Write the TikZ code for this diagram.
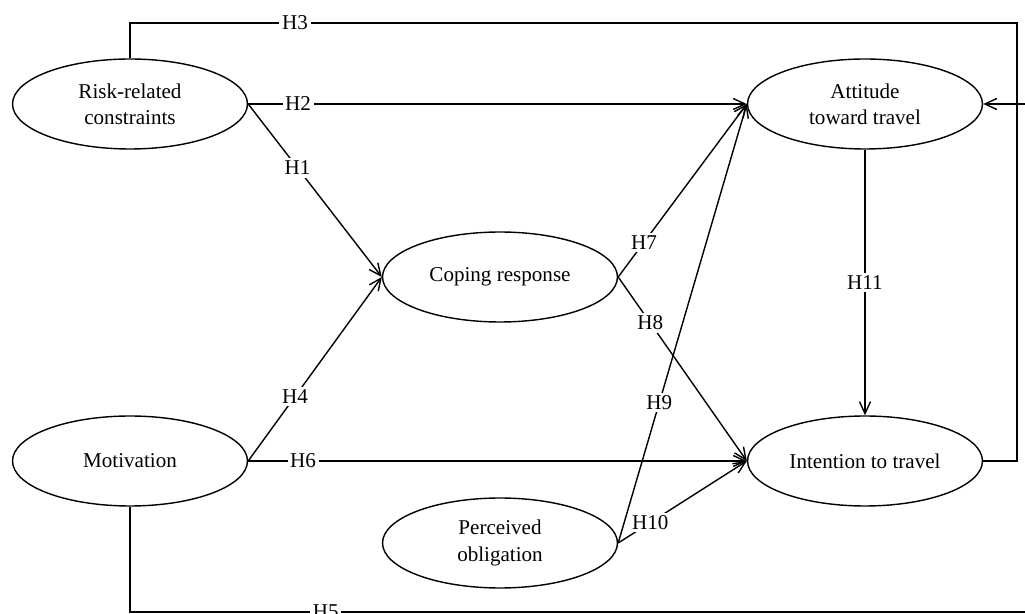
\documentclass[tikz,border=0pt]{standalone}
\usepackage{fontspec}
\setmainfont{Liberation Serif}
\usetikzlibrary{arrows.meta, shapes.geometric}

\begin{document}
\begin{tikzpicture}[x=0.02cm, y=-0.02cm,
    latent/.style={draw, ellipse, line width=0.8pt, minimum width=4.7cm, minimum height=1.8cm,
        inner sep=0pt, align=center, font=\fontsize{12}{15}\selectfont},
    link/.style={line width=0.8pt, -{Straight Barb[length=2.4mm, width=2.2mm]}},
    plain/.style={line width=0.8pt},
    hyp/.style={fill=white, inner sep=1.5pt, font=\fontsize{12}{14}\selectfont}]
    \useasboundingbox (0,0) rectangle (1025,614);

    % Constructs
    \node[latent] (risk)   at (130,104) {Risk-related\\constraints};
    \node[latent] (att)    at (865,104) {Attitude\\toward travel};
    \node[latent] (cope)   at (500,277) {Coping response};
    \node[latent] (motiv)  at (130,461) {Motivation};
    \node[latent] (intent) at (865,461) {Intention to travel};
    \node[latent] (oblig)  at (500,543) {Perceived\\obligation};

    % corner points of the outer loops
    \coordinate (topR) at (1017,23);
    \coordinate (botR) at (1045,612);

    % Hypotheses
    \draw[link] (risk.east) -- node[hyp, pos=0.37] {H1} (cope.west);
    \draw[link] (risk.east) -- node[hyp, pos=0.1] {H2} (att.west);
    \draw[plain] (risk.north) |- node[hyp, pos=0.593] {H3} (topR) |- (intent.east);
    \draw[link] (motiv.east) -- node[hyp, pos=0.35] {H4} (cope.west);
    \draw[plain] (motiv.south) |- node[hyp, pos=0.607] {H5} (botR);
    \draw[link] (botR) |- (att.east);
    \draw[link] (motiv.east) -- node[hyp, pos=0.11] {H6} (intent.west);
    \draw[link] (cope.east) -- node[hyp, pos=0.2] {H7} (att.west);
    \draw[link] (cope.east) -- node[hyp, pos=0.25] {H8} (intent.west);
    \draw[link] (oblig.east) -- node[hyp, pos=0.32] {H9} (att.west);
    \draw[link] (oblig.east) -- node[hyp, pos=0.25] {H10} (intent.west);
    \draw[link] (att.south) -- node[hyp] {H11} (intent.north);
\end{tikzpicture}
\end{document}
